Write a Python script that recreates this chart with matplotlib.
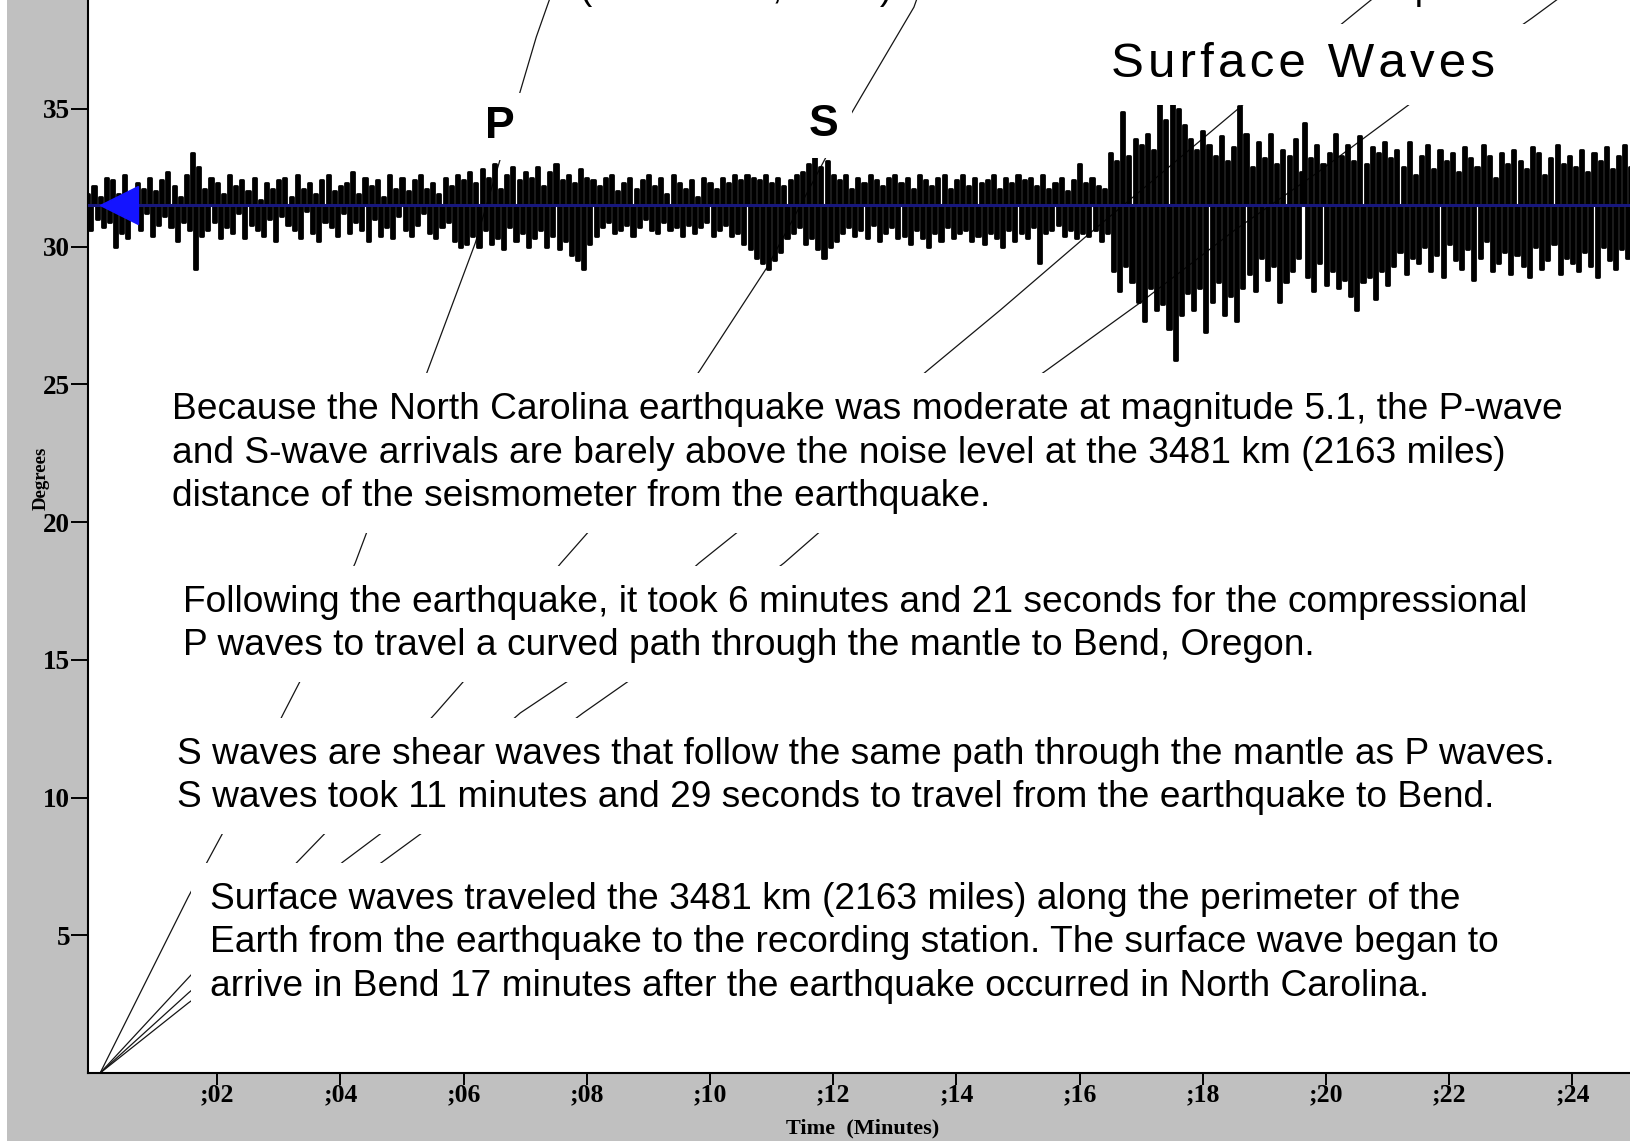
import matplotlib
matplotlib.use("Agg")
import matplotlib.pyplot as plt
from matplotlib.patches import Rectangle
import numpy as np

W, H = 1631, 1141

# travel-time curves (minutes after start, degrees)
p_time = [0.10, 1.53, 2.16, 3.08, 3.38, 4.24, 4.46, 5.42, 6.19, 6.59, 7.18, 7.35, 7.42]
p_dist = [0.00, 6.39, 9.00, 13.07, 14.37, 18.51, 19.82, 25.52, 30.13, 33.14, 37.61, 38.69, 39.13]

s_time = [0.10, 1.53, 3.30, 3.88, 5.55, 6.06, 7.58, 8.08, 9.84, 10.93, 11.54, 11.90, 12.45, 13.31, 13.38]
s_dist = [0.00, 3.45, 7.66, 9.00, 13.07, 14.37, 18.51, 19.78, 25.52, 29.26, 31.80, 33.32, 35.43, 38.69, 39.13]

love_time = [0.10, 1.53, 4.04, 4.84, 6.92, 7.79, 9.82, 10.55, 13.54, 14.71, 16.09, 17.68, 18.78, 20.57, 20.83]
love_dist = [0.00, 2.90, 7.66, 9.00, 13.07, 14.37, 18.51, 19.82, 25.52, 27.69, 30.34, 33.32, 35.39, 38.66, 39.13]

rayl_time = [0.10, 1.53, 4.68, 5.50, 7.94, 8.77, 11.20, 11.85, 15.47, 17.00, 18.52, 19.87, 21.49, 23.34, 23.85]
rayl_dist = [0.00, 2.54, 7.66, 9.00, 13.07, 14.37, 18.51, 19.78, 25.52, 27.99, 30.60, 32.70, 35.39, 38.29, 39.13]

# seismogram, one row per minute, tenths of a degree about the station line
station_deg = 31.5
trace_rows = [
    [4, -9, 7, -5, 3, -8, 10, -6, 9, -15, 4, -10, 11, -12, 2, -5, 8, -9, 6, -3, 10, -11, 5, -7],
    [9, -4, 12, -8, 7, -13, 3, -6, 11, -9, 19, -23, 14, -11, 6, -9, 10, -6, 8, -12],
    [4, -8, 11, -10, 7, -3, 9, -12, 5, -7, 10, -9, 2, -11, 8, -5, 6, -13, 9, -4],
    [10, -7, 3, -9, 11, -12, 6, -2, 8, -10, 4, -13, 9, -6, 11, -8, 5, -11, 7, -3],
    [8, -10, 12, -6, 4, -9, 10, -13, 7, -5, 9, -11, 3, -8, 11, -12, 6, -4, 10, -9],
    [5, -11, 9, -7, 11, -3, 6, -10, 8, -12, 4, -8, 10, -6, 7, -13, 11, -15, 9, -14],
    [12, -11, 8, -15, 13, -9, 10, -14, 15, -12, 6, -16, 11, -8, 14, -13, 9, -10, 12, -15],
    [10, -12, 14, -9, 7, -15, 12, -11, 15, -16, 9, -13, 11, -18, 8, -20, 13, -23, 10, -14],
    [9, -11, 7, -8, 10, -6, 11, -10, 5, -9, 8, -7, 10, -11, 6, -8, 9, -5, 11, -9],
    [7, -10, 10, -6, 4, -9, 11, -8, 8, -11, 6, -7, 9, -10, 3, -8, 10, -6, 8, -11],
    [6, -9, 10, -7, 8, -11, 11, -10, 9, -14, 11, -16, 10, -19, 9, -21, 11, -23, 8, -20],
    [10, -17, 7, -12, 9, -10, 11, -8, 12, -14, 15, -12, 18, -16, 14, -19, 16, -15, 11, -13],
    [9, -10, 11, -8, 6, -11, 10, -9, 8, -12, 11, -7, 9, -13, 7, -10, 10, -8, 11, -12],
    [8, -11, 10, -14, 6, -9, 11, -12, 9, -15, 7, -10, 10, -13, 11, -8, 6, -12, 9, -10],
    [11, -9, 7, -13, 10, -11, 8, -14, 9, -10, 11, -12, 6, -15, 10, -9, 8, -13, 11, -10],
    [9, -12, 10, -8, 7, -21, 11, -10, 6, -9, 8, -7, 10, -11, 5, -9, 9, -12, 15, -10],
    [8, -11, 10, -9, 7, -13, 6, -10, 19, -24, 16, -31, 34, -22, 18, -28, 24, -35, 22, -42],
    [26, -30, 20, -38, 39, -36, 31, -45, 38, -56, 35, -40, 29, -32, 24, -38, 20, -30, 27, -46],
    [22, -35, 18, -28, 25, -40, 16, -33, 21, -42, 36, -30, 26, -25, 14, -31, 23, -19, 17, -27],
    [26, -22, 15, -35, 20, -28, 18, -24, 24, -19, 12, 30, -26, 17, -31, 22, -21, 15, -29, 19],
    [-24, 26, -30, 18, -27, 22, -33, 16, -38, 25, -28, 15, -26, 21, -34, 19, -24, 23, -29, 17],
    [-22, 20, -17, 14, -25, 23, -19, 11, -21, 18, -15, 22, -24, 13, -18, 20, -26, 16, -14, 19],
    [-20, 12, -23, 21, -16, 17, -27, 14, -19, 22, -13, 18, -24, 10, -21, 19, -17, 15, -25, 20],
    [-18, 16, -22, 13, -26, 21, -15, 19, -23, 11, -20, 17, -14, 22, -25, 15, -19, 18, -21, 14],
    [-24, 20, -17, 12, -22, 19, -26, 16, -15, 21, -20, 13, -23, 18, -16, 22, -19, 14, -21, 17],
]
trace_start, trace_step = -0.1, 0.05

x_ticks = [2, 4, 6, 8, 10, 12, 14, 16, 18, 20, 22, 24]
x_tick_labels = [";02", ";04", ";06", ";08", ";10", ";12", ";14", ";16", ";18", ";20", ";22", ";24"]
y_ticks = [5, 10, 15, 20, 25, 30, 35]

note1 = ("Because the North Carolina earthquake was moderate at magnitude 5.1, the P-wave\n"
         "and S-wave arrivals are barely above the noise level at the 3481 km (2163 miles)\n"
         "distance of the seismometer from the earthquake.")
note2 = ("Following the earthquake, it took 6 minutes and 21 seconds for the compressional\n"
         "P waves to travel a curved path through the mantle to Bend, Oregon.")
note3 = ("S waves are shear waves that follow the same path through the mantle as P waves.\n"
         "S waves took 11 minutes and 29 seconds to travel from the earthquake to Bend.")
note4 = ("Surface waves traveled the 3481 km (2163 miles) along the perimeter of the\n"
         "Earth from the earthquake to the recording station. The surface wave began to\n"
         "arrive in Bend 17 minutes after the earthquake occurred in North Carolina.")

plt.rcParams['font.family'] = ['Liberation Serif', 'DejaVu Serif']
plt.rcParams['font.weight'] = 'bold'
sans = ['Liberation Sans', 'DejaVu Sans']

fig = plt.figure(figsize=(W / 100, H / 100), dpi=100, facecolor='#c0c0c0')
fig.add_artist(Rectangle((0, 0), 7 / W, 1, transform=fig.transFigure,
                         facecolor='white', edgecolor='none', zorder=0))
ax = fig.add_axes([88 / W, (H - 1073) / H, 1 - 88 / W, 1073 / H])
ax.set_facecolor('white')

# travel-time curves
for tt, dd in [(p_time, p_dist), (s_time, s_dist), (love_time, love_dist), (rayl_time, rayl_dist)]:
    ax.plot(tt, dd, color='#151515', lw=0.9, zorder=1)

# seismogram
trace = station_deg + np.concatenate([np.array(r, dtype=float) for r in trace_rows]) / 10.0
t = trace_start + trace_step * np.arange(len(trace))
ax.fill_between(t, station_deg, trace, step='mid', color='black', lw=0, zorder=2)
ax.plot(t, trace, drawstyle='steps-mid', color='black', lw=2.0, zorder=2)
ax.axhline(station_deg, color='#17177d', lw=2.2, zorder=3)
ax.plot([0.40], [station_deg], marker='<', ms=28, color='#1414ff', zorder=4, clip_on=False)

ax.set_xlim(-0.097, 24.95)
ax.set_ylim(0, 38.95)
ax.set_xticks(x_ticks)
ax.set_xticklabels(x_tick_labels)
ax.set_yticks(y_ticks)
for side in ['top', 'right']:
    ax.spines[side].set_visible(False)
for side in ['left', 'bottom']:
    ax.spines[side].set_linewidth(1.5)
ax.tick_params(axis='y', length=12, width=1.4, pad=1, labelsize=19.5)
ax.tick_params(axis='x', length=8.5, width=1.4, pad=-1, labelsize=18.5)

fig.text(863 / W, 1 - 1128 / H, "Time  (Minutes)", ha='center', va='center', fontsize=16)
fig.text(41 / W, 1 - 478 / H, "Degrees", rotation=90, ha='center', va='center', fontsize=13.5)

# labels on the seismogram
lab_box = dict(boxstyle='square,pad=0.3', fc='white', ec='none')
fig.text(500 / W, 1 - 138 / H, "P", family=sans, weight='bold', fontsize=32,
         ha='center', va='baseline', bbox=lab_box)
fig.text(824 / W, 1 - 136 / H, "S", family=sans, weight='bold', fontsize=32,
         ha='center', va='baseline', bbox=lab_box)
fig.text(1111 / W, 1 - 77 / H, "\u200a".join("Surface Waves") + "  ", family=sans,
         weight='normal', fontsize=35.5, ha='left', va='baseline',
         bbox=dict(boxstyle='square,pad=0.36', fc='white', ec='none'))

# clipped line of text at the very top (only descenders show)
fig.text(580 / W, 1 + 1 / H, "(2163 miles, 31.3\u00b0)", family=sans, weight='normal',
         fontsize=26.7, ha='left', va='baseline')
fig.text(1394 / W, 1 + 1 / H, "epicenter", family=sans, weight='normal',
         fontsize=26.7, ha='left', va='baseline')

# explanatory notes
note_box = dict(boxstyle='square,pad=0.52', fc='white', ec='none')
for x, y, s in [(172, 453, note1), (183, 624, note2), (177, 776, note3), (210, 943, note4)]:
    fig.text(x / W, 1 - y / H, s, family=sans, weight='normal', fontsize=26.7,
             ha='left', va='center', linespacing=1.3, bbox=note_box)

fig.savefig("out.png", dpi=100, facecolor=fig.get_facecolor())
